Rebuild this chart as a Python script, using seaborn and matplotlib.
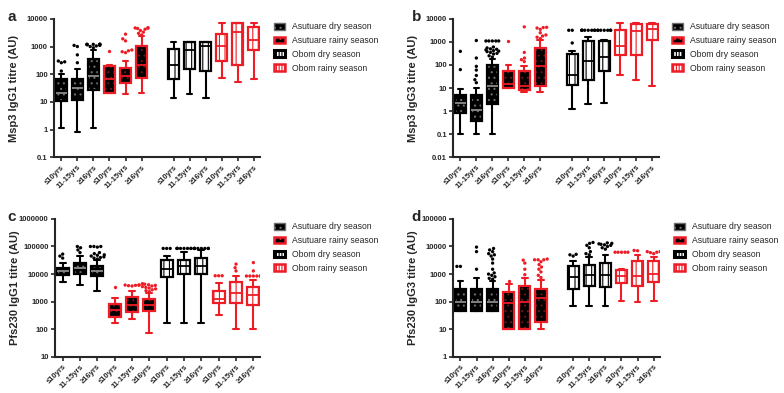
import numpy as np
import pandas as pd
import matplotlib
matplotlib.use("Agg")
import matplotlib.pyplot as plt
import matplotlib.patches as mpatches
from matplotlib.ticker import FixedLocator, FuncFormatter, LogLocator, NullFormatter
import seaborn as sns

sns.set_style("ticks")
plt.rcParams['font.family'] = ['Liberation Sans', 'DejaVu Sans']
plt.rcParams['hatch.linewidth'] = 0.8

# categories
age_groups = ['≤10yrs', '11-15yrs', '≥16yrs'] * 4
series = ['Asutuare dry season', 'Asutuare rainy season', 'Obom dry season', 'Obom rainy season']

# ---- panel a : Msp3 IgG1 ----
a_low = [1.1, 0.8, 1.1, 21, 20, 21, 14, 20, 14, 70, 52, 65]
a_q1 = [10.5, 12, 26, 21, 48, 74, 65, 155, 135, 310, 220, 780]
a_med = [21, 32, 85, 65, 85, 220, 220, 780, 1030, 1030, 3400, 1700]
a_q3 = [65, 68, 340, 195, 170, 1030, 820, 1430, 1430, 2860, 6800, 5100]
a_high = [100, 150, 780, 220, 300, 2400, 1430, 1430, 1430, 6800, 6800, 6800]
a_out = [[130, 260, 280, 300], [260, 500, 1000, 1100],
         [900, 1000, 1050, 1100, 1150, 1200, 1200, 1200, 1200, 1200, 1200],
         [700], [600, 650, 700, 750, 1600, 1900, 2800],
         [2600, 3000, 3300, 3800, 4200, 4500, 4600, 4700, 4800],
         [], [], [], [], [], []]

# ---- panel b : Msp3 IgG3 ----
b_low = [0.1, 0.1, 0.1, 10, 6.5, 7, 1.2, 2.1, 2.3, 38, 23, 12]
b_q1 = [0.82, 0.36, 2.0, 10, 8.5, 12, 13, 23, 53, 280, 280, 1260]
b_med = [2.3, 1.1, 12, 15, 12.5, 87, 38, 145, 220, 650, 2900, 3700]
b_q3 = [5.1, 4.8, 100, 57, 57, 550, 300, 1100, 1070, 3200, 5700, 5700]
b_high = [9, 10, 190, 100, 87, 1200, 390, 1650, 1200, 6300, 6700, 6700]
b_out = [[63, 390], [17, 23, 35, 60, 87, 200, 1150],
         [220, 250, 300, 320, 350, 380, 400, 420, 450, 480, 500, 550, 600,
          1100, 1100, 1100, 1100, 1100],
         [1100], [140, 170, 200, 350, 4500],
         [1400, 1600, 1800, 2000, 2500, 3500, 4000, 4200, 4300],
         [900, 3200, 3200], [3200] * 8, [3200] * 7, [], [], []]

# ---- panel c : Pfs230 IgG1 ----
c_low = [5100, 4100, 2500, 170, 240, 73, 170, 170, 170, 320, 100, 100]
c_q1 = [8900, 10000, 8500, 270, 420, 460, 7800, 10000, 10000, 900, 900, 740]
c_med = [13000, 16500, 13000, 480, 780, 780, 15000, 19000, 20000, 1300, 2100, 1800]
c_q3 = [17000, 26000, 20000, 850, 1500, 1270, 32000, 32000, 38000, 2400, 5100, 3300]
c_high = [26000, 45000, 33000, 1400, 2400, 2100, 46000, 62000, 75000, 4700, 8700, 5900]
c_out = [[38000, 45000, 53000], [60000, 75000, 90000, 100000],
         [35000, 38000, 40000, 42000, 45000, 48000, 50000, 55000, 60000,
          95000, 100000, 100000, 100000],
         [3300], [3700, 3800, 3900, 4000, 4000, 4000],
         [2300, 2500, 2700, 2900, 3100, 3300, 3500, 3700, 3900, 4100, 4300, 4500],
         [85000] * 3, [85000] * 8, [85000] * 8,
         [8700] * 3, [13000, 17000, 23000], [8500] * 6 + [13000, 26000]]

# ---- panel d : Pfs230 IgG3 ----
d_low = [47, 47, 47, 10.5, 10.5, 10.5, 70, 70, 70, 110, 95, 110]
d_q1 = [47, 47, 47, 10.3, 10.5, 18.5, 295, 360, 330, 470, 380, 510]
d_med = [100, 100, 100, 90, 95, 140, 760, 950, 950, 820, 820, 1000]
d_q3 = [295, 295, 295, 215, 360, 300, 1900, 2050, 2600, 1400, 3000, 2900]
d_high = [580, 700, 550, 420, 710, 620, 3000, 4300, 5000, 1550, 5000, 4300]
d_out = [[1900, 1900], [1500, 6500, 9500],
         [650, 700, 800, 900, 1000, 1100, 1500, 2500, 3500, 4500, 5000, 5500, 6500, 7500, 8500],
         [560], [950, 1500, 2500, 3200],
         [750, 900, 1200, 1500, 1800, 2200, 2800, 3300, 3300, 3300, 3500],
         [4500, 5000, 5200], [5000, 5500, 6500, 9000, 11000, 13000, 14000],
         [8000, 9000, 10000, 11000, 11500, 12000, 12500, 13000, 13500],
         [6200] * 5, [7000, 7200], [5500, 6000, 6200, 6500, 6500]]

RED = '#ee1c25'
# style per series: face, edge, hatch, hatch colour, median colour
styles = [
    ('black', 'black', '...', '#6e6e6e', '#8c8c8c'),
    ('black', RED, '...', '#6a1414', RED),
    ('white', 'black', '|||', 'black', 'black'),
    ('white', RED, '|||', RED, RED),
]

panels = [
    ('a', 'Msp3 IgG1 titre (AU)', a_low, a_q1, a_med, a_q3, a_high, a_out, (0.1, 10000), True),
    ('b', 'Msp3 IgG3 titre (AU)', b_low, b_q1, b_med, b_q3, b_high, b_out, (0.01, 10000), True),
    ('c', 'Pfs230 IgG1 titre (AU)', c_low, c_q1, c_med, c_q3, c_high, c_out, (10, 1000000), False),
    ('d', 'Pfs230 IgG3 titre (AU)', d_low, d_q1, d_med, d_q3, d_high, d_out, (1, 100000), True),
]

# axes rectangles in figure fractions
rects = {
    'a': [0.069, 0.600, 0.263, 0.352],
    'b': [0.578, 0.600, 0.262, 0.352],
    'c': [0.070, 0.092, 0.262, 0.351],
    'd': [0.578, 0.092, 0.264, 0.351],
}
letter_pos = {'a': (0.010, 0.975), 'b': (0.525, 0.975), 'c': (0.010, 0.465), 'd': (0.525, 0.465)}

# legend swatches
legend_handles = [
    mpatches.Patch(facecolor='black', edgecolor='#6e6e6e', hatch='...', linewidth=1.0),
    mpatches.Patch(facecolor='black', edgecolor=RED, hatch='...', linewidth=1.8),
    mpatches.Patch(facecolor='white', edgecolor='black', hatch='||||||', linewidth=2.2),
    mpatches.Patch(facecolor='white', edgecolor=RED, hatch='||||||', linewidth=1.8),
]

fig = plt.figure(figsize=(7.84, 3.93), dpi=100)

for name, ylabel, low, q1, med, q3, high, outs, ylim, gap in panels:
    ax = fig.add_axes(rects[name])
    ax.set_yscale('log')
    if gap:
        pos = [1, 2, 3, 4, 5, 6, 8, 9, 10, 11, 12, 13]
    else:
        pos = list(range(1, 13))

    stats = []
    for i in range(12):
        stats.append(dict(whislo=low[i], q1=q1[i], med=med[i], q3=q3[i],
                          whishi=high[i], fliers=[]))
    res = ax.bxp(stats, positions=pos, widths=0.7, patch_artist=True,
                 showfliers=False, manage_ticks=False)
    for i in range(12):
        face, edge, hatch, hcol, mcol = styles[i // 3]
        box = res['boxes'][i]
        box.set_facecolor(face)
        box.set_edgecolor(hcol)
        box.set_hatch(hatch)
        box.set_linewidth(0)
        outline = mpatches.PathPatch(box.get_path(), fill=False, edgecolor=edge,
                                     linewidth=1.6, zorder=2.5)
        ax.add_patch(outline)
        res['medians'][i].set_color(mcol)
        res['medians'][i].set_linewidth(1.3)
        res['medians'][i].set_zorder(3)
        for ln in res['whiskers'][2 * i:2 * i + 2] + res['caps'][2 * i:2 * i + 2]:
            ln.set_color(edge)
            ln.set_linewidth(1.5)

    # outliers
    rows = []
    for i in range(12):
        col = 'k' if (i // 3) % 2 == 0 else 'r'
        for v in outs[i]:
            rows.append((pos[i], v, col))
    df = pd.DataFrame(rows, columns=['pos', 'val', 'col'])
    sns.swarmplot(data=df, x='pos', y='val', hue='col', palette={'k': 'black', 'r': RED},
                  native_scale=True, size=2.4, linewidth=0, ax=ax, legend=False,
                  warn_thresh=1.0)

    ax.set_ylim(*ylim)
    if gap:
        ax.set_xlim(0.55, 13.4)
    else:
        ax.set_xlim(0.55, 12.4)
    ax.set_xticks(pos)
    ax.set_xticklabels(age_groups, rotation=45, ha='right', rotation_mode='anchor',
                       fontsize=5.5, fontweight='bold')
    major = [10.0 ** k for k in range(int(np.log10(ylim[0])), int(np.log10(ylim[1])) + 1)]
    ax.yaxis.set_major_locator(FixedLocator(major))
    ax.yaxis.set_major_formatter(FuncFormatter(lambda v, p: f'{v:.10g}'))
    ax.yaxis.set_minor_locator(LogLocator(base=10, subs=np.arange(2, 10)))
    ax.yaxis.set_minor_formatter(NullFormatter())
    for lab in ax.get_yticklabels():
        lab.set_fontsize(5.5)
        lab.set_fontweight('bold')
    ax.tick_params(axis='both', which='major', length=3, width=1.2, pad=1.5)
    ax.tick_params(axis='y', which='minor', length=1.8, width=0.8)
    ax.set_xlabel('')
    ax.set_ylabel(ylabel, fontsize=8, fontweight='bold')
    ax.yaxis.set_label_coords(-0.17, 0.5)
    sns.despine(ax=ax)
    for sp in ['left', 'bottom']:
        ax.spines[sp].set_linewidth(1.5)

    ax.legend(legend_handles, series, loc='upper left', bbox_to_anchor=(1.05, 1.0),
              frameon=False, fontsize=6.2, handlelength=1.3, handleheight=0.8,
              handletextpad=0.8, labelspacing=0.55, borderaxespad=0)

    fig.text(letter_pos[name][0], letter_pos[name][1], name, fontsize=11,
             fontweight='bold', va='top')

fig.savefig('out.png', dpi=100)
